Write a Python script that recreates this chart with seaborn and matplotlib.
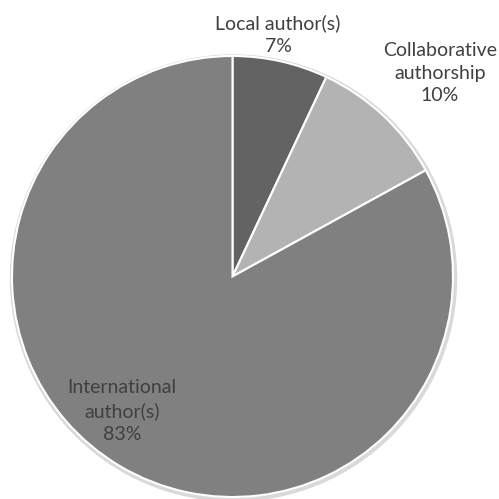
import matplotlib
matplotlib.use("Agg")
import matplotlib.pyplot as plt
import seaborn as sns

categories = ["Local author(s)", "Collaborative\nauthorship", "International\nauthor(s)"]
values = [7, 10, 83]
colors = ["#636363", "#b3b3b3", "#808080"]

sns.set_theme(style="white")
plt.rcParams["font.family"] = ["Lato", "DejaVu Sans"]

fig = plt.figure(figsize=(4.99, 4.99), dpi=100)
ax = fig.add_axes([0, 0, 1, 1])

cx, cy, r = 232.5, 499 - 276.5, 220.5
# subtle shadow
shadow = plt.Circle((cx + 1, cy - 1.5), r + 2.5, color="#d9d9d9", zorder=0)
ax.add_patch(shadow)
ax.pie(values, colors=colors, startangle=90, counterclock=False,
       center=(cx, cy), radius=r, frame=True,
       wedgeprops=dict(edgecolor="white", linewidth=1.5))
ax.set_xlim(0, 499)
ax.set_ylim(0, 499)
ax.axis("off")

label_pos = [(278, 499 - 35), (440, 499 - 73), (122, 499 - 411)]
for cat, v, (x, y) in zip(categories, values, label_pos):
    ax.text(x, y, f"{cat}\n{v}%", ha="center", va="center", fontsize=14,
            color="#404040", linespacing=1.4)

fig.savefig("out.png", dpi=100)
